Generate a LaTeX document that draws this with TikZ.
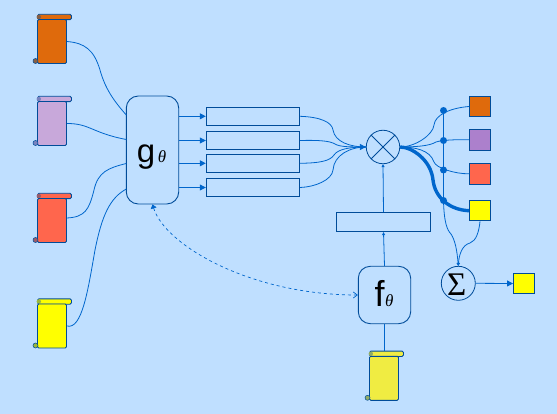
\documentclass[tikz,border=0pt]{standalone}
\usepackage{fontspec}
\setmainfont{Liberation Sans}
\newfontfamily\greekfont{Liberation Serif}
\usetikzlibrary{arrows.meta,calc}
\definecolor{bgBlue}{HTML}{BFDFFF}
\definecolor{boxBlue}{HTML}{004C99}
\definecolor{lineBlue}{HTML}{0066CC}
\definecolor{docOrange}{HTML}{DF6A0C}
\definecolor{docLilac}{HTML}{C8A8DA}
\definecolor{docCoral}{HTML}{FF664D}
\definecolor{docYellow}{HTML}{FFFF00}
\definecolor{docPale}{HTML}{F0EC42}
\definecolor{outPurple}{HTML}{AC80CC}
\tikzset{
    box/.style={draw=boxBlue, line width=.9pt, inner sep=0pt},
    bar/.style={box, minimum width=93.5pt, minimum height=18.5pt},
    func/.style={box, rounded corners=12pt, minimum width=52.4pt},
    outbox/.style={box, minimum width=21pt, minimum height=20.5pt},
    op/.style={draw=boxBlue, line width=.8pt, circle, inner sep=0pt, minimum size=33.5pt},
    doc/.style={box, fill=#1, rounded corners=1.2pt, minimum width=29pt, minimum height=44pt},
    link/.style={draw=lineBlue, line width=.8pt},
    bigtip/.style={-{Triangle[length=6pt,width=6pt]}},
    smalltip/.style={-{Triangle[length=3pt,width=3pt]}},
    joint/.style={circle, fill=lineBlue, inner sep=0pt, minimum size=7pt},
    letter/.style={inner sep=0pt, font=\fontsize{#1}{#1}\selectfont},
    subtheta/.style={inner sep=0pt, font=\fontsize{17}{17}\selectfont\greekfont\itshape}
}
\begin{document}
\begin{tikzpicture}[x=1pt, y=-1pt]
    \useasboundingbox[fill=bgBlue] (0,0) rectangle (557,414);

    % scrolls: name / body centre / colour
    \foreach \name/\px/\py/\col in {doc1/52/41.5/docOrange, doc2/52/123.5/docLilac,
                                    doc3/52/220.5/docCoral, doc4/52/326/docYellow,
                                    doc5/384/378.3/docPale} {
        \node[box, fill=\col, rounded corners=1.5pt, minimum width=34pt, minimum height=5.4pt]
            (\name top) at ($(\px,\py)+(2.5,-24.5)$) {};
        \fill[\col!60!boxBlue] ($(\px,\py)+(-13.2,-24.5)$) circle (2.2pt);
        \node[doc=\col] (\name) at (\px,\py) {};
        \node[box, fill=\col!60!boxBlue, circle, minimum size=5pt, line width=.5pt]
            (\name curl) at ($(\px,\py)+(-16.5,19.5)$) {};
    }

    \node[func, minimum height=108pt] (g) at (152.5,150) {};
    \node[letter=33] (gname) at (146,157) {g};
    \node[subtheta] (gsub) at (162,156.5) {θ};

    \node[func, minimum height=57.4pt] (f) at (384.5,295) {};
    \node[letter=36] (fname) at (379.5,293) {f};
    \node[subtheta] (fsub) at (389.4,301) {θ};

    \node[bar] (b1) at (253,116.3) {};
    \node[bar] (b2) at (253,140.5) {};
    \node[bar] (b3) at (253,163.3) {};
    \node[bar] (b4) at (253,187.5) {};
    \node[bar, minimum height=19.4pt] (b5) at (383.5,222) {};

    \node[op] (times) at (383,147) {};
    \draw[boxBlue, line width=.8pt] (times.45) -- (times.225) (times.135) -- (times.315);
    \node[op, minimum size=34pt] (sum) at (458.3,283.3) {};
    \node[letter=33, font=\fontsize{33}{33}\selectfont\greekfont] (sumname) at (456.8,284.5) {Σ};

    \node[outbox, fill=docOrange] (o1) at (480,106.5) {};
    \node[outbox, fill=outPurple] (o2) at (480,139.8) {};
    \node[outbox, fill=docCoral] (o3) at (480,173.8) {};
    \node[outbox, fill=docYellow] (o4) at (480,210.7) {};
    \node[outbox, fill=docYellow] (o5) at (524,283.5) {};

    \node[joint] (d1) at (443.5,110.5) {};
    \node[joint] (d2) at (443.5,140.5) {};
    \node[joint] (d3) at (443.5,170) {};
    \node[joint] (d4) at (443.5,200.5) {};

    % doc to g
    \draw[link] (doc1.east) .. controls (85,43) and (94,50) .. (100,70) .. controls (105,88) and (113,100) .. (126.3,115);
    \draw[link] (doc2.east) .. controls (90,123.5) and (92,133) .. (126.3,139.5);
    \draw[link] ([yshift=2.5pt]doc3.east) .. controls (85,217) and (89,210) .. (94,190) .. controls (98,172) and (108,168) .. (126.3,163.5);
    \draw[link] (doc4.east) .. controls (82,330) and (88,290) .. (95,250) .. controls (102,215) and (110,198) .. (126.3,189);
    \draw[link] (f.south) -- (doc5top.north -| f.south);

    % g to bars
    \draw[link, bigtip] (g.east |- b1) -- (b1.west);
    \draw[link, bigtip] (g.east |- b2) -- (b2.west);
    \draw[link, bigtip] (g.east |- b3) -- (b3.west);
    \draw[link, bigtip] (g.east |- b4) -- (b4.west);

    % bars to times
    \draw[link] (b1.east) .. controls (320,117) and (332,122) .. (333,130) .. controls (335,142) and (350,147) .. (366,147);
    \draw[link] (b2.east) .. controls (320,140) and (330,141) .. (335,144) .. controls (340,147) and (350,147) .. (366,147);
    \draw[link] (b3.east) .. controls (320,163) and (330,161) .. (334,155) .. controls (338,149) and (350,147) .. (366,147);
    \draw[link] (b4.east) .. controls (315,187) and (332,180) .. (333,170) .. controls (334,155) and (350,147) .. (366,147);
    \draw[link, bigtip] (360,147) -- (times.west);

    % times to outputs
    \draw[link] (times.east) .. controls (415,147) and (433,135) .. (434,125) .. controls (435,115) and (450,108) .. (o1.west);
    \draw[link] (times.east) .. controls (415,147) and (430,146) .. (436,142) .. controls (442,140) and (455,139.5) .. (o2.west);
    \draw[link] (times.east) .. controls (415,147) and (430,150) .. (434,162) .. controls (436,168) and (455,174) .. (o3.west);
    \draw[lineBlue, line width=3.4pt] (times.east) .. controls (412,147) and (431,160) .. (433,180) .. controls (435,198) and (450,210) .. (o4.west);

    \draw[link] (d1) -- (d4);
    \draw[link, smalltip] (d4.center) .. controls (444,222) and (447,230) .. (451,234) .. controls (455,240) and (457,250) .. (sum.north);
    \draw[link, smalltip] (o4.south) .. controls (479,232) and (476,241) .. (470,243) .. controls (462,245) and (459,255) .. (sum.north);
    \draw[link, bigtip] (sum.east) -- (o5.west);

    % f side
    \draw[link, smalltip] (f.north) -- (b5.south);
    \draw[link, smalltip] (b5.north) -- (times.south);
    \draw[link, dashed, {Triangle[length=4pt,width=6pt]}-{Straight Barb[length=4pt,width=6pt]}, line width=.7pt]
        (g.south) .. controls (165,245) and (250,295) .. (f.west);
\end{tikzpicture}
\end{document}
